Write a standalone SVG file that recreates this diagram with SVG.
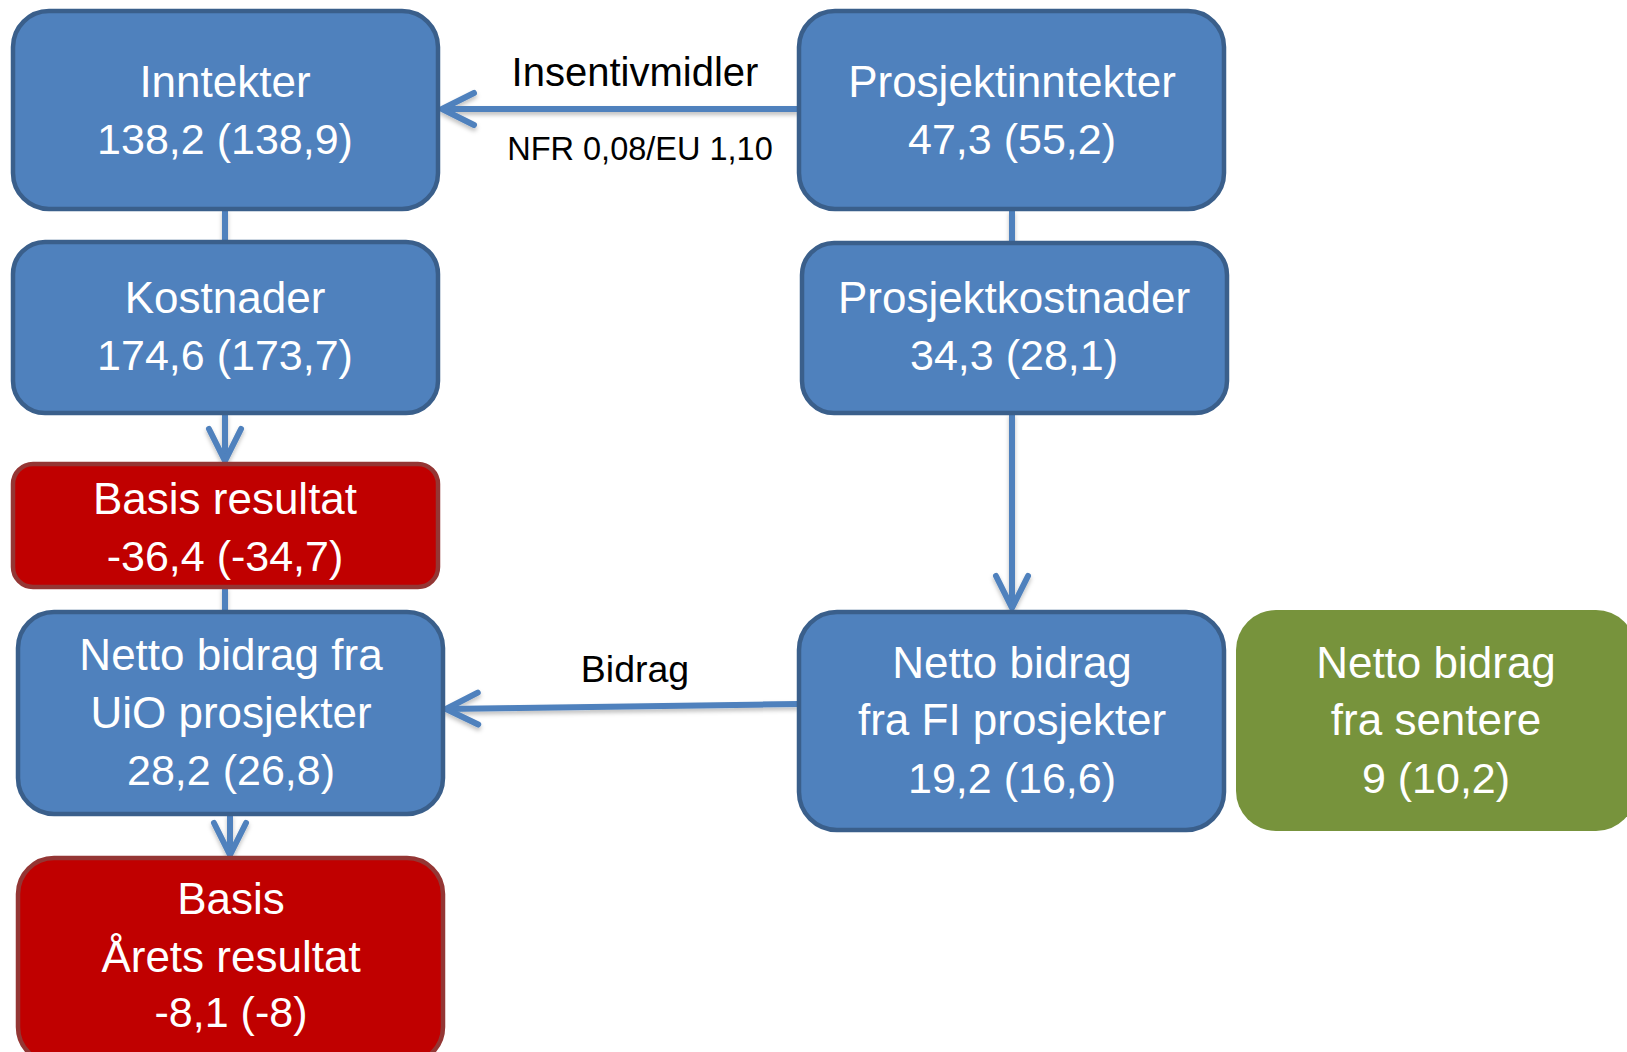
<svg xmlns="http://www.w3.org/2000/svg" width="1627" height="1052" viewBox="0 0 1627 1052">
<defs>
<marker id="arr" markerUnits="userSpaceOnUse" viewBox="-40 -22 46 44" refX="0" refY="0" markerWidth="46" markerHeight="44" orient="auto">
<path d="M-32,-16 L0,0 L-32,16" fill="none" stroke="#4F81BD" stroke-width="6" stroke-linecap="round" stroke-linejoin="round"/>
</marker>
<filter id="sh" x="-10%" y="-50%" width="120%" height="200%">
<feDropShadow dx="0" dy="3" stdDeviation="2" flood-color="#000" flood-opacity="0.25"/>
</filter>
</defs>
<style>
.blue{fill:#4F81BD;stroke:#3A5F8B;stroke-width:4.5}
.red{fill:#C00000;stroke:#943634;stroke-width:4.5}
.green{fill:#77933C}
.nt{font-family:"Liberation Sans",Arial,sans-serif;font-size:44px;fill:#fff;text-anchor:middle}
.num{font-size:43px}
.lb{font-family:"Liberation Sans",Arial,sans-serif;fill:#000;text-anchor:middle}
.c{fill:none;stroke:#4F81BD;stroke-width:6}
</style>
<g id="connectors" filter="url(#sh)">
<line class="c" x1="225" y1="209" x2="225" y2="241"/>
<line class="c" x1="225" y1="413" x2="225" y2="461" marker-end="url(#arr)"/>
<line class="c" x1="225" y1="587" x2="225" y2="612"/>
<line class="c" x1="230" y1="814" x2="230" y2="855" marker-end="url(#arr)"/>
<line class="c" x1="1012" y1="210" x2="1012" y2="242"/>
<line class="c" x1="1012" y1="413" x2="1012" y2="608" marker-end="url(#arr)"/>
<line class="c" x1="799" y1="109" x2="442" y2="109" marker-end="url(#arr)"/>
<line class="c" x1="799" y1="704" x2="446" y2="709" marker-end="url(#arr)"/>
</g>
<g id="labels">
<text class="lb" x="635" y="86" font-size="40">Insentivmidler</text>
<text class="lb" x="640" y="160" font-size="32.5">NFR 0,08/EU 1,10</text>
<text class="lb" x="635" y="682" font-size="37.5">Bidrag</text>
</g>
<g id="inntekter">
<rect class="blue" x="13" y="11" width="425" height="198" rx="36"/>
<text class="nt" x="225" y="97" font-size="45">Inntekter</text>
<text class="nt num" x="225" y="154">138,2 (138,9)</text>
</g>
<g id="prosjektinntekter">
<rect class="blue" x="799" y="11" width="425" height="198" rx="36"/>
<text class="nt" x="1012" y="97" font-size="45">Prosjektinntekter</text>
<text class="nt num" x="1012" y="154">47,3 (55,2)</text>
</g>
<g id="kostnader">
<rect class="blue" x="13" y="242" width="425" height="171" rx="32"/>
<text class="nt" x="225" y="313" font-size="43">Kostnader</text>
<text class="nt num" x="225" y="370">174,6 (173,7)</text>
</g>
<g id="prosjektkostnader">
<rect class="blue" x="802" y="243" width="425" height="170" rx="32"/>
<text class="nt" x="1014" y="313" font-size="43.5">Prosjektkostnader</text>
<text class="nt num" x="1014" y="370">34,3 (28,1)</text>
</g>
<g id="basis-resultat">
<rect class="red" x="13" y="464" width="425" height="123" rx="20"/>
<text class="nt" x="225" y="514" font-size="43">Basis resultat</text>
<text class="nt num" x="225" y="571">-36,4 (-34,7)</text>
</g>
<g id="netto-uio">
<rect class="blue" x="18" y="612" width="425" height="202" rx="36"/>
<text class="nt" x="231" y="670">Netto bidrag fra</text>
<text class="nt" x="231" y="728">UiO prosjekter</text>
<text class="nt num" x="231" y="785">28,2 (26,8)</text>
</g>
<g id="basis-arets-resultat">
<rect class="red" x="18" y="858" width="425" height="205" rx="36"/>
<text class="nt" x="231" y="914">Basis</text>
<text class="nt" x="231" y="972">Årets resultat</text>
<text class="nt num" x="231" y="1027">-8,1 (-8)</text>
</g>
<g id="netto-fi">
<rect class="blue" x="799" y="612" width="425" height="218" rx="38"/>
<text class="nt" x="1012" y="678">Netto bidrag</text>
<text class="nt" x="1012" y="735">fra FI prosjekter</text>
<text class="nt num" x="1012" y="793">19,2 (16,6)</text>
</g>
<g id="netto-sentere">
<rect class="green" x="1236" y="610" width="400" height="221" rx="40"/>
<text class="nt" x="1436" y="678">Netto bidrag</text>
<text class="nt" x="1436" y="735">fra sentere</text>
<text class="nt num" x="1436" y="793">9 (10,2)</text>
</g>
</svg>
